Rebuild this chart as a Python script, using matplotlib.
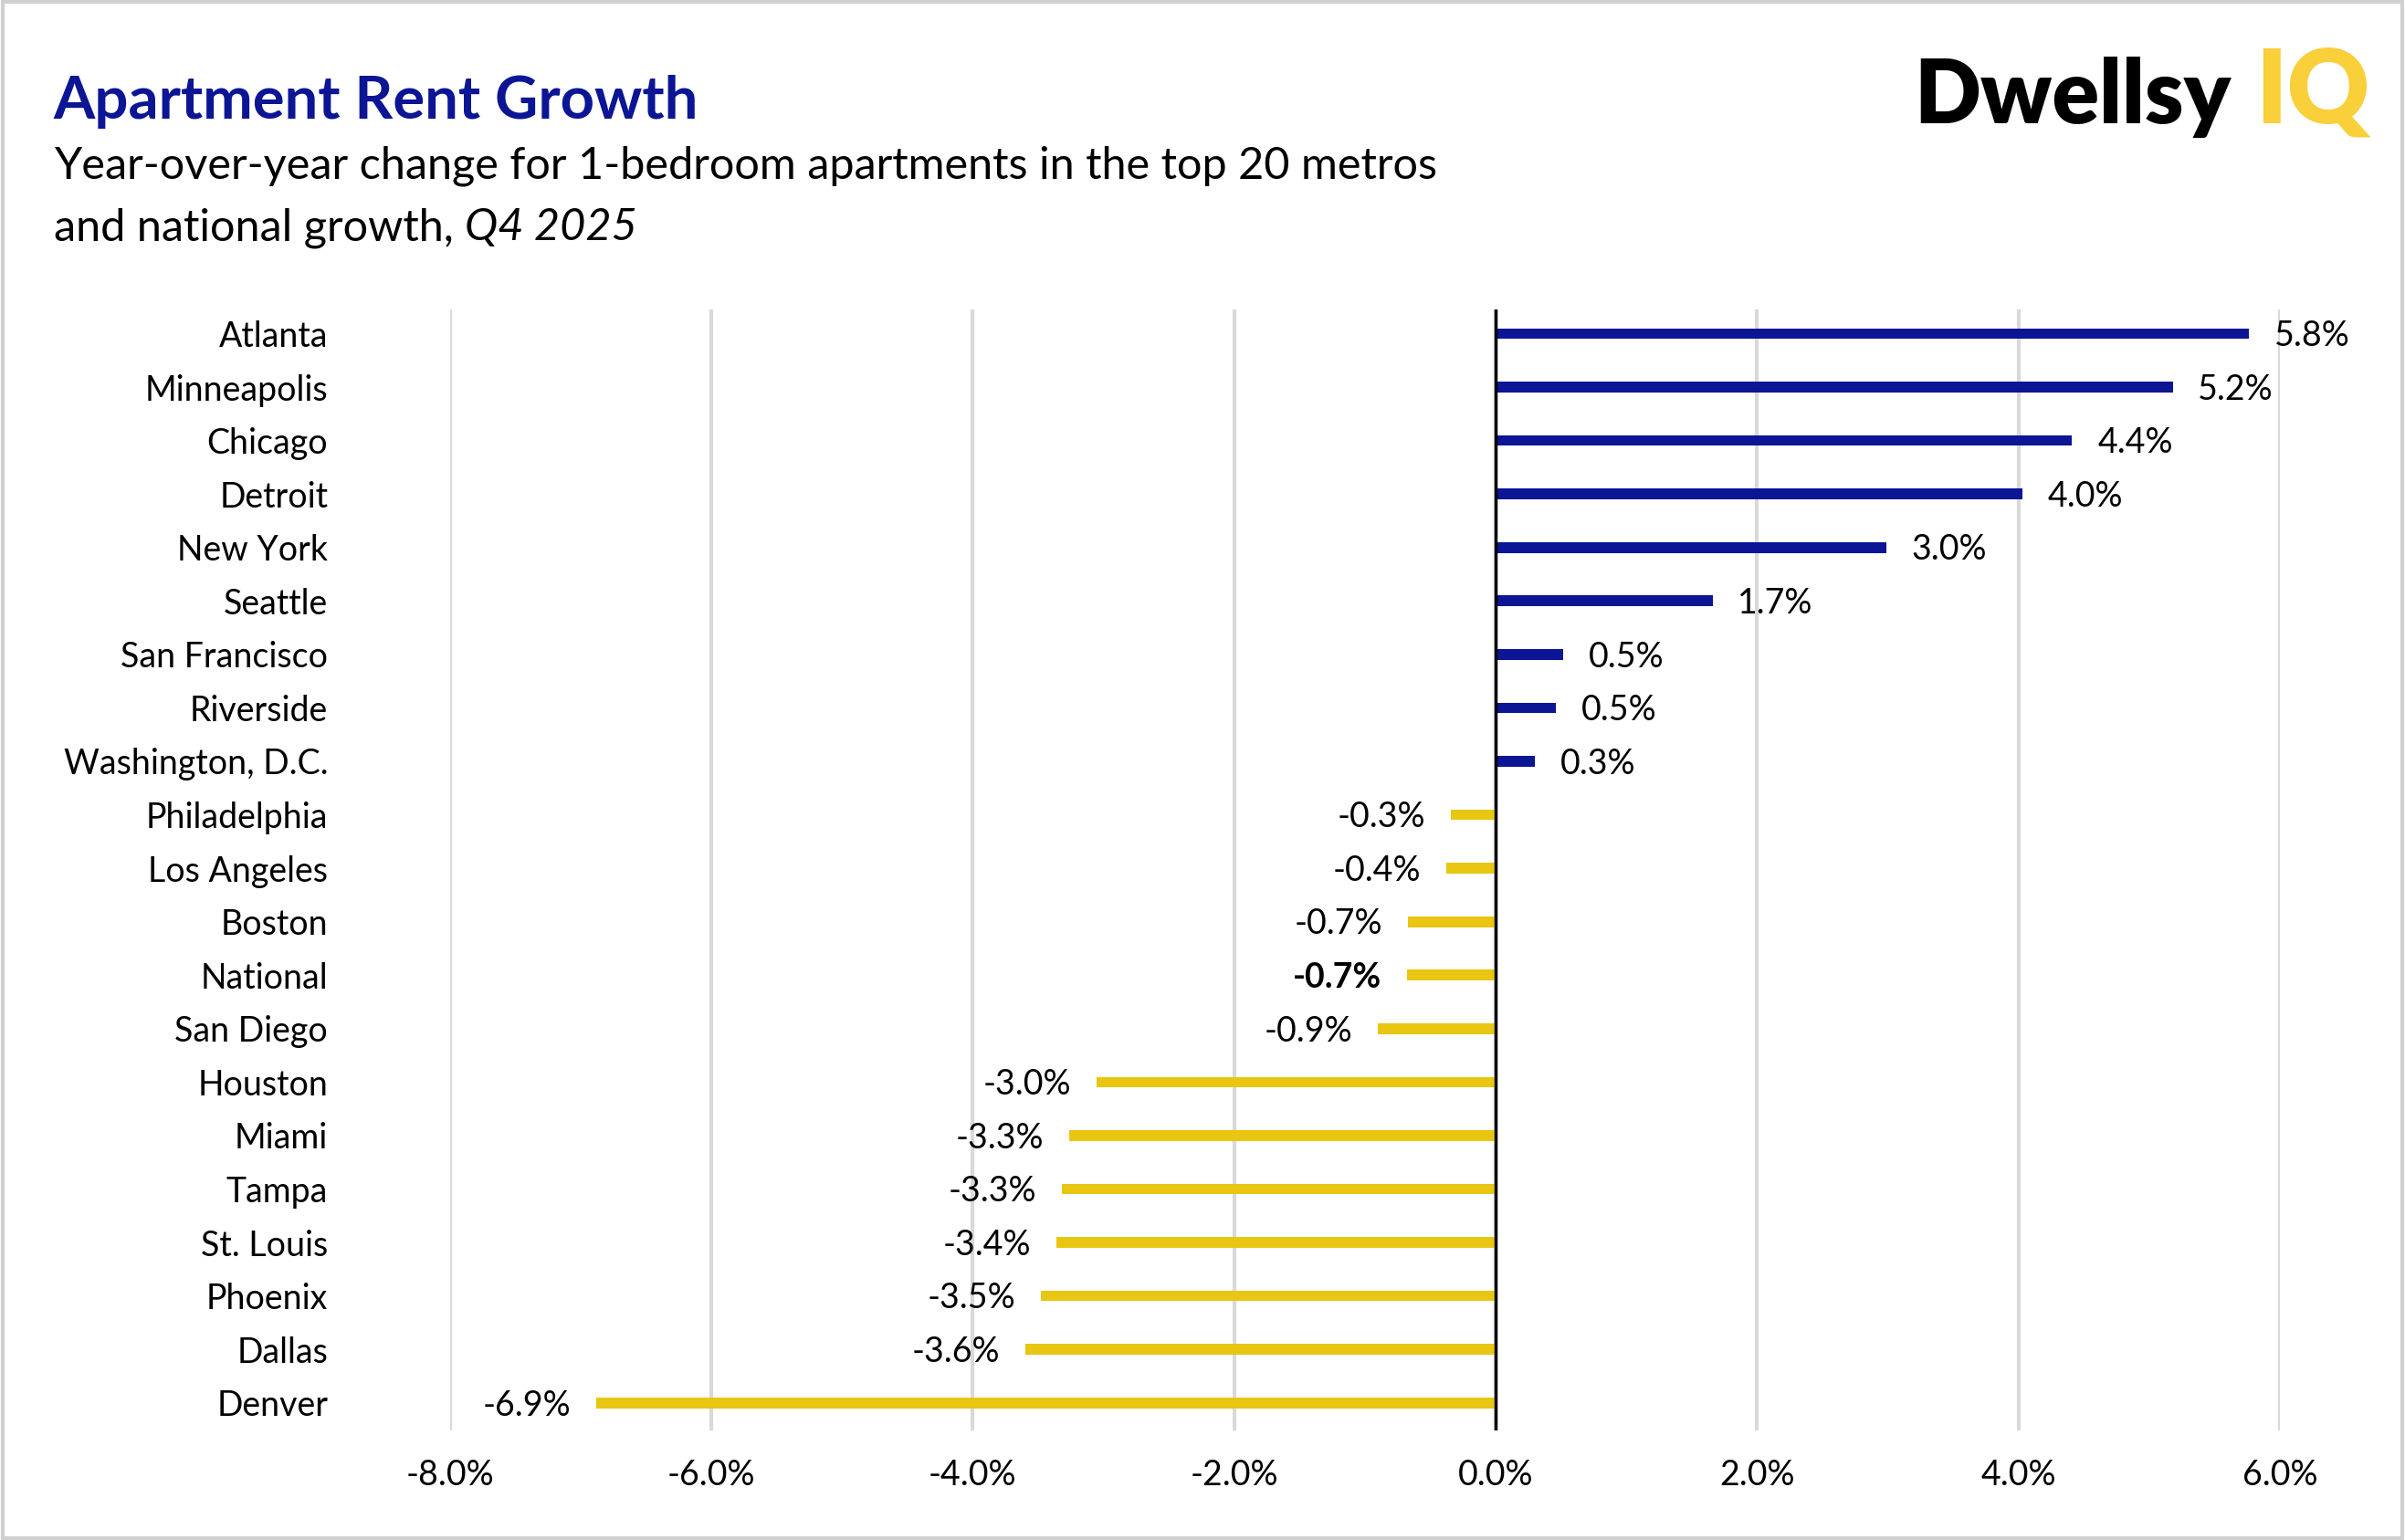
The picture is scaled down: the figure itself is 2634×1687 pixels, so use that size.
import matplotlib.pyplot as plt
from matplotlib.patches import Rectangle

plt.rcParams['font.family'] = ['Lato', 'DejaVu Sans']

metros = ['Atlanta', 'Minneapolis', 'Chicago', 'Detroit', 'New York', 'Seattle',
          'San Francisco', 'Riverside', 'Washington, D.C.', 'Philadelphia',
          'Los Angeles', 'Boston', 'National', 'San Diego', 'Houston', 'Miami',
          'Tampa', 'St. Louis', 'Phoenix', 'Dallas', 'Denver']
growth = [5.76, 5.18, 4.41, 4.03, 2.99, 1.66, 0.52, 0.46, 0.30, -0.34,
          -0.38, -0.67, -0.68, -0.90, -3.05, -3.26, -3.32, -3.36, -3.48, -3.60, -6.88]
xticks = [-8, -6, -4, -2, 0, 2, 4, 6]

NAVY = '#0c1594'
YELLOW = '#e8c612'

fig = plt.figure(figsize=(26.34, 16.87), dpi=100)
ax = fig.add_axes([0.187, 0.071, 0.761, 0.728])

ypos = list(range(len(metros)))
colors = [NAVY if v > 0 else YELLOW for v in growth]
ax.barh(ypos, growth, height=0.2, color=colors, zorder=3)
ax.set_ylim(len(metros) - 0.48, -0.45)
ax.set_xlim(-8, 6)

for y, v, name in zip(ypos, growth, metros):
    txt = f"{v:.1f}%"
    w = 'bold' if name == 'National' else 'normal'
    if v >= 0:
        ax.annotate(txt, (v, y), xytext=(20, -2), textcoords='offset points',
                    ha='left', va='center', fontsize=27, fontweight=w)
    else:
        ax.annotate(txt, (v, y), xytext=(-20, -2), textcoords='offset points',
                    ha='right', va='center', fontsize=27, fontweight=w)

ax.set_yticks(ypos)
ax.set_yticklabels(metros, fontsize=27)
ax.set_xticks(xticks)
ax.set_xticklabels([f"{t:.1f}%" for t in xticks], fontsize=27)
ax.tick_params(axis='y', length=0, pad=96)
ax.tick_params(axis='x', length=0, pad=22)
ax.grid(axis='x', color='#d9d9d9', linewidth=3, zorder=0)
ax.axvline(0, color='black', linewidth=2.5, zorder=4)
for s in ax.spines.values():
    s.set_visible(False)

# title and subtitle
fig.text(0.0223, 0.923, 'Apartment Rent Growth', fontsize=47, fontweight='bold',
         color=NAVY, va='baseline')
fig.text(0.0223, 0.884, 'Year-over-year change for 1-bedroom apartments in the top 20 metros',
         fontsize=35, va='baseline')
t2 = fig.text(0.0223, 0.844, 'and national growth, ', fontsize=35, va='baseline')
fig.canvas.draw()
bb = t2.get_window_extent()
fig.text(bb.x1 / fig.bbox.width, 0.844, 'Q4 2025', fontsize=35, style='italic',
         va='baseline')

# logo
lg = fig.text(0.796, 0.920, 'Dwellsy', fontsize=69, fontweight='heavy',
              color='black', va='baseline')
fig.canvas.draw()
bb = lg.get_window_extent()
fig.text(bb.x1 / fig.bbox.width + 0.010, 0.920, 'IQ', fontsize=80, fontweight='heavy',
         color='#f9cf3a', va='baseline')

fig.patches.append(Rectangle((0.001, 0.001), 0.998, 0.998, transform=fig.transFigure,
                             fill=False, edgecolor='#d0d0d0', linewidth=3))

fig.savefig('out.png', dpi=100)
